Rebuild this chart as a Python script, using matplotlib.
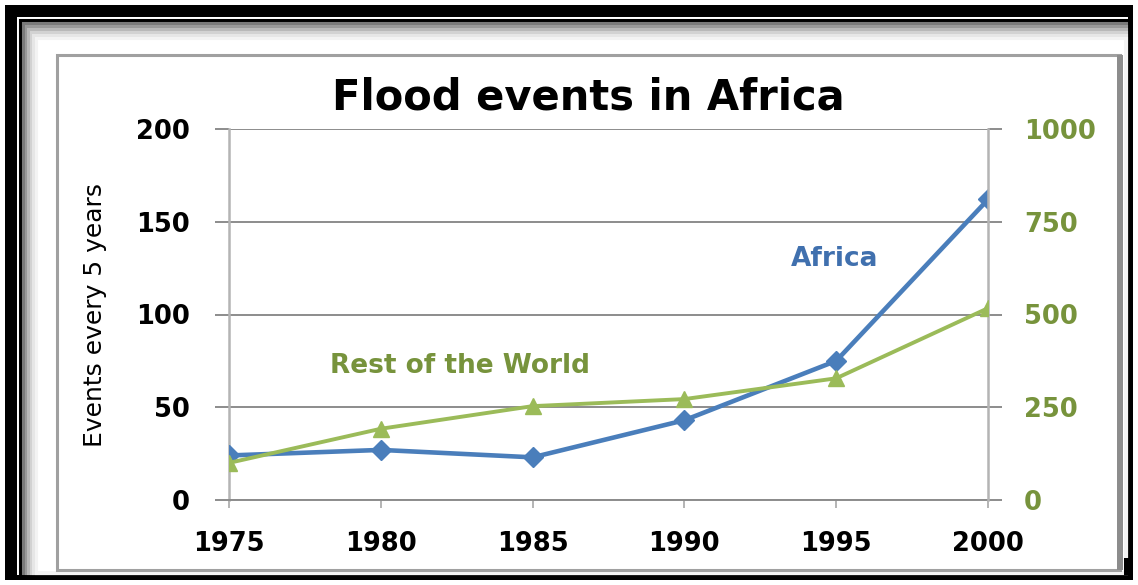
import matplotlib.pyplot as plt
from matplotlib.patches import Rectangle

years = [1975, 1980, 1985, 1990, 1995, 2000]
africa = [24, 27, 23, 43, 75, 162]
rest_of_world = [100, 192, 253, 272, 328, 517]

left_ticks = [0, 50, 100, 150, 200]
right_ticks = [0, 250, 500, 750, 1000]

W, H = 1138, 585
blue = '#4a7ebb'
green = '#9bbb59'
olive = '#77933c'
grid_grey = '#8c8c8c'
spine_grey = '#b4b4b4'

fig = plt.figure(figsize=(W / 100, H / 100), dpi=100)
fig.patch.set_facecolor('white')


def box(x0, y0, x1, y1, **kw):
    # rectangle given in pixel coords from top-left
    r = Rectangle((x0 / W, 1 - y1 / H), (x1 - x0) / W, (y1 - y0) / H,
                  transform=fig.transFigure, zorder=-1, **kw)
    fig.add_artist(r)


# outer black frame
box(5, 5, 1133, 17, color='black', lw=0)
box(5, 5, 17, 580, color='black', lw=0)
box(1128, 5, 1133, 580, color='black', lw=0)
box(5, 575, 1133, 580, color='black', lw=0)
box(20, 20, 1128, 575, fill=False, ec='black', lw=2.2)
# soft grey shadow inside the frame
for i, g in enumerate(['#7a7a7a', '#999999', '#b8b8b8', '#d2d2d2', '#e6e6e6', '#f3f3f3']):
    box(23 + 2.5 * i, 23 + 3 * i, 1126, 573, fill=False, ec=g, lw=2.2)
box(57, 55, 1120, 570, facecolor='white', ec='#a0a0a0', lw=2.2)
box(1117, 55, 1123, 570, color='#8c8c8c', lw=0)
box(1124, 558, 1131, 575, color='black', lw=0)

ax = fig.add_axes([229 / W, 1 - 500 / H, (988 - 229) / W, (500 - 129) / H])
ax.patch.set_alpha(0)
ax2 = ax.twinx()

ax.plot(years, africa, color=blue, lw=3.3, marker='D', ms=10,
        mec=blue, mfc=blue, zorder=3, solid_joinstyle='round')
ax2.plot(years, rest_of_world, color=green, lw=2.8, marker='^', ms=12,
         mec=green, mfc=green, zorder=3, solid_joinstyle='round')

ax.set_xlim(1975, 2000)
ax.set_ylim(0, 200)
ax2.set_ylim(0, 1000)
ax.set_xticks(years)
ax.set_yticks(left_ticks)
ax2.set_yticks(right_ticks)

ax.yaxis.grid(True, color=grid_grey, lw=1.4)
ax.set_axisbelow(True)

for a in (ax, ax2):
    for s in a.spines.values():
        s.set_visible(False)
ax.spines['left'].set_visible(True)
ax.spines['left'].set_color(spine_grey)
ax.spines['left'].set_linewidth(1.8)
ax2.spines['right'].set_visible(True)
ax2.spines['right'].set_color(spine_grey)
ax2.spines['right'].set_linewidth(1.8)
ax.spines['bottom'].set_visible(True)
ax.spines['bottom'].set_color(grid_grey)
ax.spines['bottom'].set_linewidth(1.4)

ax.tick_params(axis='y', direction='out', length=10, width=1.4, color=grid_grey,
               pad=18, labelsize=18.5, labelcolor='black')
ax.tick_params(axis='x', direction='out', length=6, width=1.4, color=spine_grey,
               pad=16, labelsize=18.5, labelcolor='black')
ax2.tick_params(axis='y', direction='out', length=10, width=1.4, color=grid_grey,
                pad=16, labelsize=18.5, labelcolor=olive)
for lab in ax.get_xticklabels() + ax.get_yticklabels() + ax2.get_yticklabels():
    lab.set_fontweight('bold')

fig.text(588 / W, 1 - 98 / H, 'Flood events in Africa', ha='center', va='center',
         fontsize=30, fontweight='bold', color='black')
fig.text(95 / W, 1 - 315 / H, 'Events every 5 years', rotation=90,
         ha='center', va='center', fontsize=18, color='black')
ax.text(1994.95, 130, 'Africa', ha='center', va='center', fontsize=19,
        fontweight='bold', color='#4070ae')
ax.text(1982.6, 72, 'Rest of the World', ha='center', va='center', fontsize=19,
        fontweight='bold', color=olive)

fig.savefig('out.png', dpi=100)
